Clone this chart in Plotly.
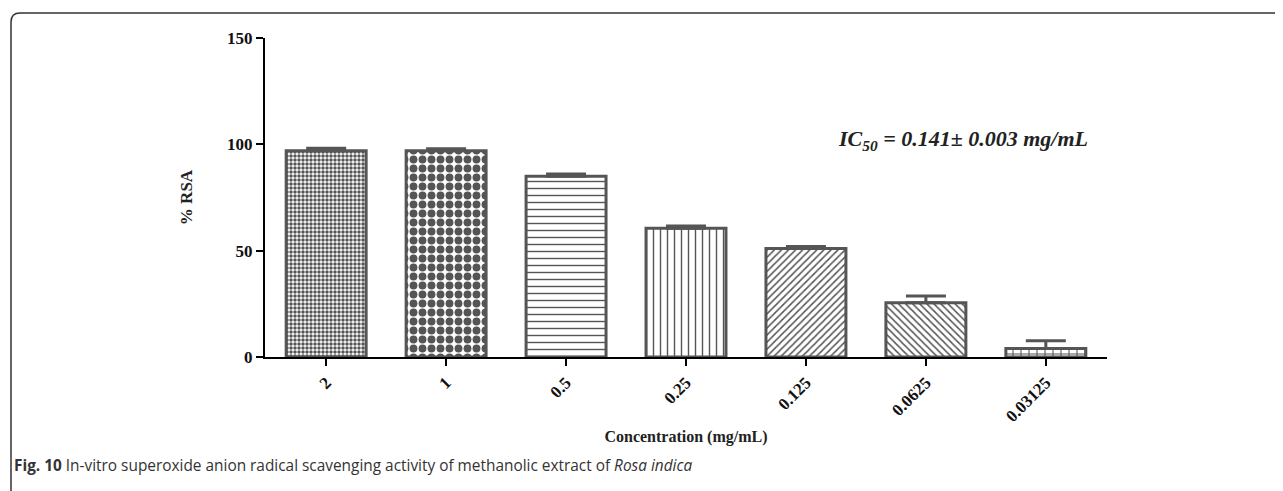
import plotly.graph_objects as go

categories = ["2", "1", "0.5", "0.25", "0.125", "0.0625", "0.03125"]
rsa_values = [97.0, 97.0, 85.0, 60.5, 51.0, 25.5, 4.0]
rsa_errors = [1.2, 0.9, 1.0, 1.1, 1.0, 3.2, 3.6]
y_ticks = [0, 50, 100, 150]
patterns = [".", ".", "-", "|", "/", "\\", "+"]
pattern_sizes = [4, 9, 7, 7, 5, 5, 8]
pattern_solid = [0.6, 0.6, 0.2, 0.2, 0.3, 0.3, 0.25]

W, H = 1283, 491
OX, OY = 8, 8  # page body margin offset
GRAY = "#555555"


def px(x):
    return (x - OX) / W


def py(y):
    return (H - (y - OY)) / H


fig = go.Figure()
fig.add_trace(go.Bar(
    x=categories,
    y=rsa_values,
    marker=dict(
        color="white",
        line=dict(color=GRAY, width=3),
        pattern=dict(shape=patterns, size=pattern_sizes, solidity=pattern_solid,
                     fgcolor=GRAY, bgcolor="white", fillmode="replace"),
    ),
    error_y=dict(type="data", symmetric=False, array=rsa_errors,
                 arrayminus=[0] * len(rsa_errors), color=GRAY, thickness=3, width=20),
    showlegend=False,
))

serif = "Liberation Serif"
fig.update_layout(
    width=W, height=H,
    margin=dict(l=0, r=0, t=0, b=0, autoexpand=False),
    paper_bgcolor="white", plot_bgcolor="white",
    bargap=1/3,
    xaxis=dict(
        domain=[px(265), px(1107)], type="category", range=[-0.51, 6.51], automargin=False,
        showline=True, linecolor="black", linewidth=2,
        ticks="outside", ticklen=7, tickwidth=2, tickcolor="black",
        tickangle=-45, showgrid=False, zeroline=False,
        tickfont=dict(family=serif, size=17, color="#111", weight="bold"),
        title=dict(text="<b>Concentration (mg/mL)</b>", standoff=6,
                   font=dict(family=serif, size=16, color="#222")),
    ),
    yaxis=dict(
        domain=[py(357), py(38)], range=[0, 150], tickvals=y_ticks, automargin=False,
        showline=True, linecolor="black", linewidth=2,
        ticks="outside", ticklen=7, tickwidth=2, tickcolor="black",
        showgrid=False, zeroline=False,
        tickfont=dict(family=serif, size=17, color="#111", weight="bold"),
        title=dict(text="<b>% RSA</b>", standoff=30,
                   font=dict(family=serif, size=17, color="#222")),
    ),
)

fig.add_annotation(
    x=px(1090), y=py(140), xref="paper", yref="paper",
    xanchor="right", yanchor="middle", showarrow=False,
    text="<b><i>IC<sub>50</sub> = 0.141± 0.003 mg/mL</i></b>",
    font=dict(family=serif, size=22, color="#222"),
)

fig.add_annotation(
    x=px(12), y=py(465), xref="paper", yref="paper",
    xanchor="left", yanchor="middle", showarrow=False,
    text="<b>Fig. 10</b> In-vitro superoxide anion radical scavenging activity of methanolic extract of <i>Rosa indica</i>",
    font=dict(family="Open Sans", size=15.4, color="#333"),
)

# frame with rounded top-left corner
bx = px(11)
by = py(13)
rx, ry = 9 / W, 9 / H
fig.add_shape(
    type="path", xref="paper", yref="paper",
    path=f"M {bx},-0.05 L {bx},{by - ry} Q {bx},{by} {bx + rx},{by} L 1.05,{by}",
    line=dict(color="#333", width=1.5),
)

fig.write_html("out.html")
